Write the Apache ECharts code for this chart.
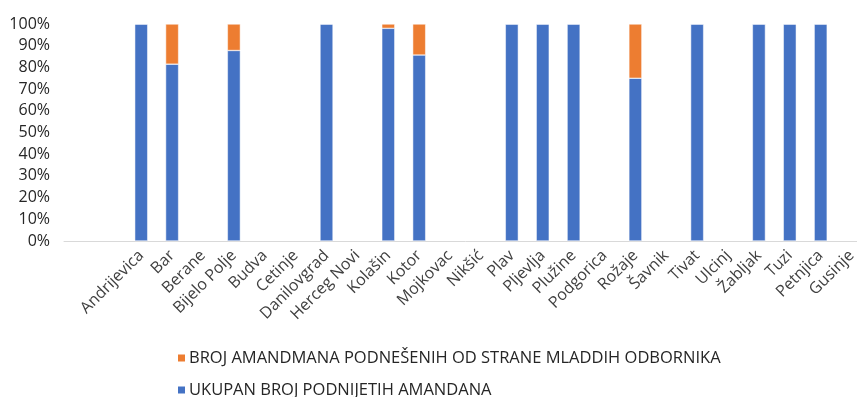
<!DOCTYPE html>
<html>
<head>
<meta charset="utf-8">
<script src="https://cdn.jsdelivr.net/npm/echarts@6/dist/echarts.min.js"></script>
<style>
  html, body { margin: 0; padding: 0; background: #ffffff; overflow: hidden; }
  /* the plot runs slightly past the right edge of the window */
  #chart { width: 880px; height: 397px; }
</style>
</head>
<body>
<div id="chart"></div>
<script>
// Municipalities on the category axis
const categories = [
  'Andrijevica', 'Bar', 'Berane', 'Bijelo Polje', 'Budva', 'Cetinje',
  'Danilovgrad', 'Herceg Novi', 'Kolašin', 'Kotor', 'Mojkovac', 'Nikšić',
  'Plav', 'Pljevlja', 'Plužine', 'Podgorica', 'Rožaje', 'Šavnik',
  'Tivat', 'Ulcinj', 'Žabljak', 'Tuzi', 'Petnjica', 'Gusinje'
];

// Share (%) of all amendments submitted
const ukupanShare = [
  100, 81.5, null, 87.8, null, null,
  100, null, 98.0, 85.7, null, null,
  100, 100, 100, null, 75.0, null,
  100, null, 100, 100, 100, null
];

// Share (%) of amendments submitted by young councillors
const mladiShare = [
  0, 18.5, null, 12.2, null, null,
  0, null, 2.0, 14.3, null, null,
  0, 0, 0, null, 25.0, null,
  0, null, 0, 0, 0, null
];

const yTicks = { min: 0, max: 100, interval: 10 };

const seriesNames = {
  mladi: 'BROJ AMANDMANA PODNEŠENIH OD STRANE MLADDIH ODBORNIKA',
  ukupan: 'UKUPAN BROJ PODNIJETIH AMANDANA'
};

const colors = { ukupan: '#4472C4', mladi: '#ED7D31' };

// two empty leading slots on the category axis
const axisCats = ['', ''].concat(categories);
const padVals = (arr) => [null, null].concat(arr);

const chart = echarts.init(document.getElementById('chart'), null, { renderer: 'canvas' });

const textFont = '"Open Sans", "Noto Sans", sans-serif';

const legendText = {
  color: '#262626', fontSize: 16.5, fontFamily: textFont,
  lineHeight: 20, padding: [0, 0, 0, -2]
};

chart.setOption({
  animation: false,
  backgroundColor: '#ffffff',
  grid: { left: 64, top: 24, width: 803, height: 217, containLabel: false },
  legend: [
    {
      left: 176, top: 348, padding: 0,
      itemWidth: 9, itemHeight: 9, icon: 'rect',
      data: [seriesNames.mladi],
      textStyle: legendText
    },
    {
      left: 176, top: 380, padding: 0,
      itemWidth: 9, itemHeight: 9, icon: 'rect',
      data: [seriesNames.ukupan],
      textStyle: legendText
    }
  ],
  xAxis: {
    type: 'category',
    data: axisCats,
    axisLine: { show: true, lineStyle: { color: '#D9D9D9', width: 1 } },
    axisTick: { show: false },
    axisLabel: {
      rotate: 45,
      interval: 0,
      margin: 12,
      color: '#404040',
      fontSize: 16,
      fontFamily: textFont
    },
    splitLine: { show: false }
  },
  yAxis: {
    type: 'value',
    min: yTicks.min,
    max: yTicks.max,
    interval: yTicks.interval,
    axisLine: { show: false },
    axisTick: { show: false },
    splitLine: { show: false },
    axisLabel: {
      formatter: '{value}%',
      margin: 14,
      color: '#262626',
      fontSize: 16,
      fontFamily: textFont
    }
  },
  series: [
    {
      name: seriesNames.ukupan,
      type: 'bar',
      stack: 'share',
      barWidth: 13,
      data: padVals(ukupanShare),
      itemStyle: { color: colors.ukupan, borderColor: '#ffffff', borderWidth: 0.5 }
    },
    {
      name: seriesNames.mladi,
      type: 'bar',
      stack: 'share',
      barWidth: 13,
      data: padVals(mladiShare),
      itemStyle: { color: colors.mladi, borderColor: '#ffffff', borderWidth: 0.5 }
    }
  ]
});
</script>
</body>
</html>
